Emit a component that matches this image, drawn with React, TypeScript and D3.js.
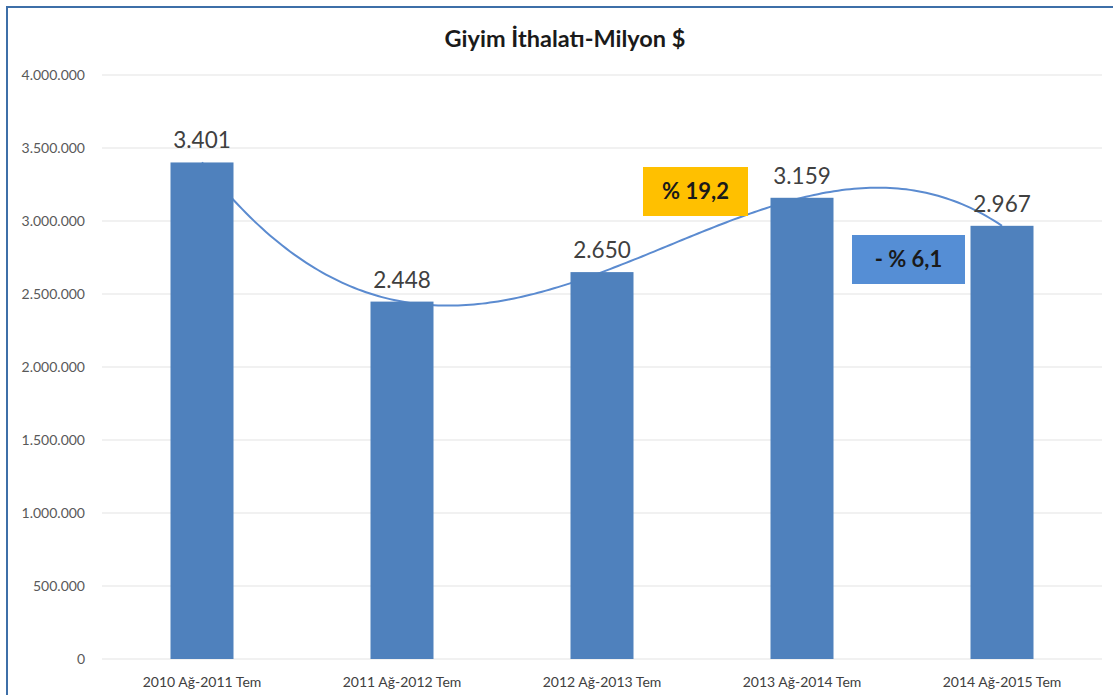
import React from "react";
import * as d3 from "d3";

const categories = ["2010 Ağ-2011 Tem", "2011 Ağ-2012 Tem", "2012 Ağ-2013 Tem", "2013 Ağ-2014 Tem", "2014 Ağ-2015 Tem"];
const values = [3401000, 2448000, 2650000, 3159000, 2967000];
const valueLabels = ["3.401", "2.448", "2.650", "3.159", "2.967"];
const yTicks = [0, 500000, 1000000, 1500000, 2000000, 2500000, 3000000, 3500000, 4000000];
const title = "Giyim İthalatı-Milyon $";
const annotations = [
  { text: "% 19,2", fill: "#FFC000", x0: 643, y0: 167, w: 105, h: 49 },
  { text: "- % 6,1", fill: "#558ED5", x0: 852, y0: 235, w: 113, h: 49 },
];

const W = 1113;
const H = 695;
const left = 102;
const right = 1102;
const top = 75;
const bottom = 659;

const fmt = (v: number) => (v === 0 ? "0" : d3.format(",")(v).replace(/,/g, "."));

// polynomial (order 4) trendline through all points, like Excel
function lagrange(t: number): number {
  let s = 0;
  for (let i = 0; i < values.length; i++) {
    let l = 1;
    for (let j = 0; j < values.length; j++) {
      if (j !== i) l *= (t - j) / (i - j);
    }
    s += values[i] * l;
  }
  return s;
}

export default function App() {
  const x = d3.scaleBand<string>().domain(categories).range([left, right]).paddingInner(0.685).paddingOuter(0.3425);
  const y = d3.scaleLinear().domain([0, 4000000]).range([bottom, top]);
  const cx = (i: number) => (x(categories[i]) as number) + x.bandwidth() / 2;
  const tScale = d3.scaleLinear().domain([0, categories.length - 1]).range([cx(0), cx(categories.length - 1)]);
  const samples = d3.range(0, 4.0001, 0.02);
  const line = d3
    .line<number>()
    .x((t) => tScale(t))
    .y((t) => y(lagrange(t)))
    .curve(d3.curveLinear);
  const font = "Lato, 'Open Sans', sans-serif";

  return (
    <svg width={W} height={H} style={{ position: "absolute", left: 0, top: 0, background: "#fff" }}>
      <rect x={0} y={0} width={W} height={H} fill="#fff" />
      <rect x={7} y={7} width={W + 20} height={H + 20} fill="none" stroke="#3E6FA8" strokeWidth={2} />
      <text x={565} y={47} textAnchor="middle" fontFamily={font} fontWeight="bold" fontSize={23.5} fill="#1a1a1a">
        {title}
      </text>
      {yTicks.map((t) => (
        <g key={t}>
          <line x1={left} x2={right} y1={y(t)} y2={y(t)} stroke="#E3E3E3" strokeWidth={1.2} />
          <text x={85} y={y(t) + 5} textAnchor="end" fontFamily={font} fontSize={14} fill="#595959">
            {fmt(t)}
          </text>
        </g>
      ))}
      <path d={line(samples) || ""} fill="none" stroke="#5B8BD0" strokeWidth={2} />
      {values.map((v, i) => (
        <rect key={i} x={x(categories[i])} y={y(v)} width={x.bandwidth()} height={bottom - y(v)} fill="#4F81BD" />
      ))}
      {values.map((v, i) => (
        <text key={i} x={cx(i)} y={y(v) - 14} textAnchor="middle" fontFamily={font} fontSize={22.5} fill="#404040">
          {valueLabels[i]}
        </text>
      ))}
      {categories.map((c, i) => (
        <text key={c} x={cx(i)} y={687} textAnchor="middle" fontFamily={font} fontSize={14} fill="#404040">
          {c}
        </text>
      ))}
      {annotations.map((a) => (
        <g key={a.text}>
          <rect x={a.x0} y={a.y0} width={a.w} height={a.h} fill={a.fill} />
          <text x={a.x0 + a.w / 2} y={a.y0 + a.h / 2 + 7.5} textAnchor="middle" fontFamily={font} fontWeight="bold" fontSize={22} fill="#1a1a1a">
            {a.text}
          </text>
        </g>
      ))}
    </svg>
  );
}
